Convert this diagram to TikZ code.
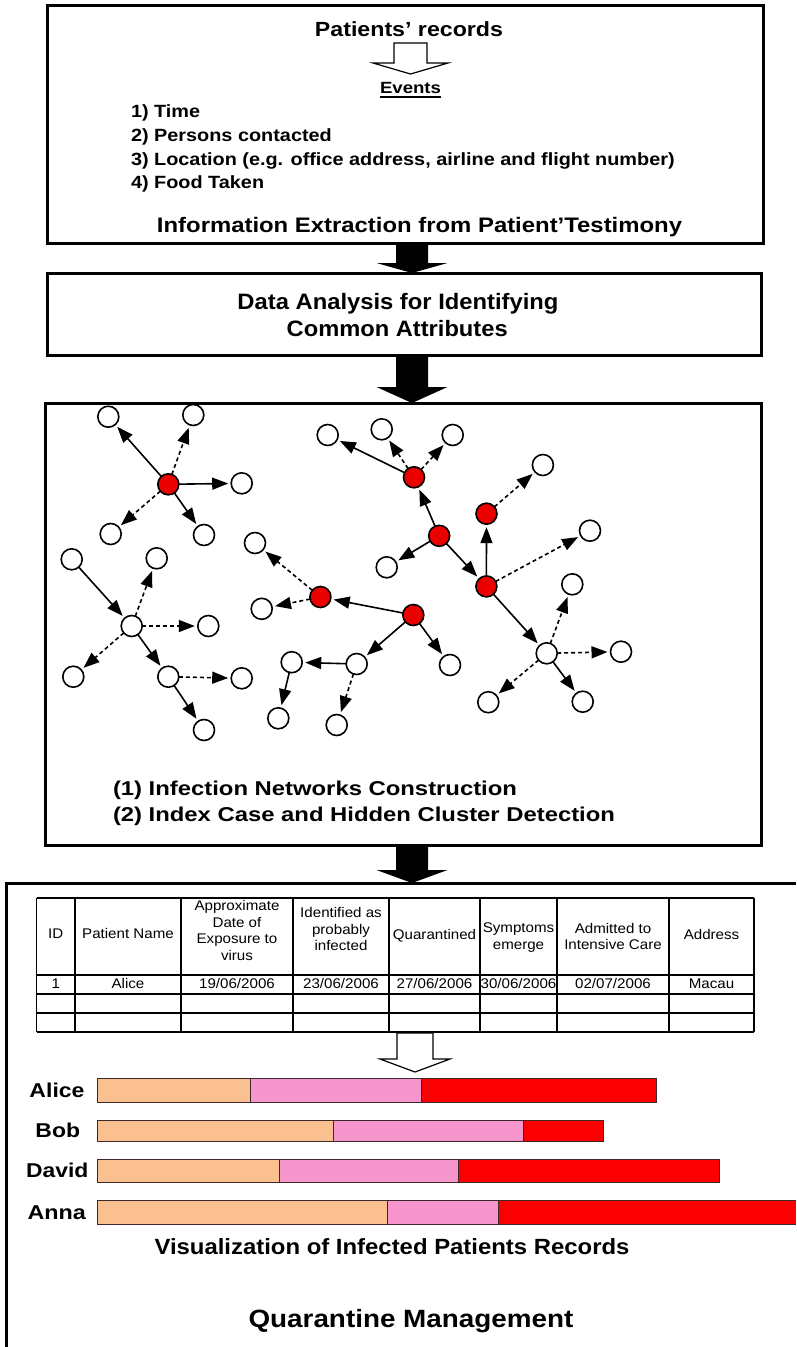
\documentclass[tikz,border=0pt]{standalone}
\usepackage{fontspec}
\setmainfont{Liberation Sans}
\usetikzlibrary{arrows.meta,calc}

\definecolor{nodered}{RGB}{235,0,0}
\definecolor{barpeach}{RGB}{250,192,143}
\definecolor{barpink}{RGB}{246,150,205}
\definecolor{barred}{RGB}{250,0,0}
\definecolor{baredge}{RGB}{60,40,40}

% text helpers: fixed width at natural height, horizontal stretch
\newcommand\fitw[2]{\resizebox{#1pt}{\height}{#2}}
\newcommand\sx[2]{\scalebox{#1}[1]{#2}}
\newcommand\cellt[1]{\sx{1.08}{\begin{tabular}{@{}c@{}}#1\end{tabular}}}
% solid block arrow between two boxes: #1 source box, #2 target box, #3 head length
\newcommand\blockarrow[3]{%
  \fill let \p1=(ax |- #1.south), \p2=(ax |- #2.north) in
    (\x1-16pt,\y1) -- (\x1+16pt,\y1) -- (\x1+16pt,\y2+#3) -- (\x1+35.5pt,\y2+#3)
    -- (\x1,\y2) -- (\x1-35.5pt,\y2+#3) -- (\x1-16pt,\y2+#3) -- cycle;}

\begin{document}
\begin{tikzpicture}[x=1pt, y=-1pt,
  every node/.style={outer sep=0pt},
  box/.style={draw, line width=3pt, inner sep=0pt},
  txt/.style={inner sep=0pt, anchor=base},
  ltxt/.style={inner sep=0pt, anchor=base west},
  nw/.style={circle, draw, fill=white, line width=1.6pt, minimum size=21pt, inner sep=0pt},
  nr/.style={nw, fill=nodered},
  link/.style={line width=1.6pt, -{Triangle[length=16pt,width=12pt]}, shorten >=3pt},
  dlink/.style={link, dash pattern=on 4pt off 3pt},
  hollow/.style={draw, fill=white, line width=1.2pt, line join=miter},
  tline/.style={line width=1.1pt},
  tlineh/.style={line width=1.7pt},
  cell/.style={inner sep=0pt, font=\fontsize{14}{16.5}\selectfont},
  seg/.style={draw=baredge, line width=1pt},
  lab/.style={inner sep=0pt, anchor=base, font=\bfseries\fontsize{20}{24}\selectfont}
]
\useasboundingbox (0,0) rectangle (796,1347);
\fill[white] (0,0) rectangle (796,1347);
\coordinate (ax) at (412,0);

% ---------- frames ----------
\node[box, minimum width=716pt, minimum height=238pt] (box1) at (405,124) {};
\node[box, minimum width=714pt, minimum height=82pt]  (box2) at (404,314) {};
\node[box, minimum width=716pt, minimum height=442pt] (box3) at (403,624) {};
\node[inner sep=0pt, minimum width=790pt, minimum height=464pt] (box4) at (401,1115) {};
\draw[line width=3pt, line join=miter] (box4.north east) -- (box4.north west) -- (box4.south west);

\blockarrow{box1}{box2}{10pt}
\blockarrow{box2}{box3}{16pt}
\blockarrow{box3}{box4}{13pt}

% ---------- information extraction ----------
\node[txt, font=\bfseries\fontsize{20.5}{24}\selectfont] (title) at (409,36) {\fitw{188}{Patients’ records}};
\draw[hollow] (394,43) -- (427,43) -- (427,63) -- (448,63) -- (410.5,74) -- (373,63) -- (394,63) -- cycle;
\node[txt, font=\bfseries\fontsize{16.2}{19}\selectfont] (events) at (410.5,93.3) {\fitw{61}{Events}};
\draw[line width=1.6pt] ([yshift=-3.8pt]events.base west) -- ([yshift=-3.8pt]events.base east);

\begin{scope}[every node/.append style={ltxt, font=\bfseries\fontsize{17.7}{20}\selectfont}]
  \node (ev1) at (131,117.5) {\sx{1.122}{1) Time}};
  \node (ev2) at (131,141.3) {\sx{1.122}{2) Persons contacted}};
  \node (ev3) at (131,165.1) {\sx{1.122}{3) Location (e.g. office address, airline and flight number)}};
  \node (ev4) at (131,188.9) {\sx{1.122}{4) Food Taken}};
\end{scope}
\node[txt, font=\bfseries\fontsize{21}{25}\selectfont] (cap1) at (419.5,232) {\fitw{525}{Information Extraction from Patient’Testimony}};

% ---------- data analysis ----------
\node[txt, font=\bfseries\fontsize{22.3}{26}\selectfont] (cap2a) at (398,309.3) {\fitw{321}{Data Analysis for Identifying}};
\node[txt, font=\bfseries\fontsize{22.3}{26}\selectfont] (cap2b) at (397.2,336.7) {\fitw{221}{Common Attributes}};

% ---------- infection networks ----------
% cluster around a red index case (top left)
\node[nr] (nA0) at (168.3,484.3) {};
\node[nw] (nA1) at (108.3,416.7) {};
\node[nw] (nA2) at (193.3,415) {};
\node[nw] (nA3) at (241.7,483.3) {};
\node[nw] (nA4) at (110.7,534) {};
\node[nw] (nA5) at (204,535) {};
% hidden cluster (bottom left)
\node[nw] (nB0) at (131.7,626) {};
\node[nw] (nB1) at (71.7,559.3) {};
\node[nw] (nB2) at (156.7,558.3) {};
\node[nw] (nB3) at (208.3,626) {};
\node[nw] (nB4) at (73.3,676.7) {};
\node[nw] (nB5) at (168.3,676.7) {};
\node[nw] (nB6) at (241.7,678.3) {};
\node[nw] (nB7) at (204,730) {};
% large chain (centre and right)
\node[nr] (nR4) at (414,477.3) {};
\node[nw] (nC1) at (327.7,435) {};
\node[nw] (nC2) at (381.7,429.3) {};
\node[nw] (nC3) at (452.7,435) {};
\node[nr] (nR5) at (486.5,513.7) {};
\node[nw] (nC4) at (542.9,465) {};
\node[nr] (nR6) at (439.2,535.8) {};
\node[nw] (nC5) at (386.7,567.3) {};
\node[nr] (nR7) at (486.4,586.4) {};
\node[nw] (nC6) at (590,530.7) {};
\node[nw] (nW3) at (546.7,653.3) {};
\node[nw] (nC7) at (572.3,584.3) {};
\node[nw] (nC8) at (621,651.7) {};
\node[nw] (nC9) at (488.3,702.2) {};
\node[nw] (nC10) at (582.7,701.7) {};
\node[nr] (nR3) at (413.3,615) {};
\node[nr] (nR2) at (320.4,597) {};
\node[nw] (nC11) at (255,543) {};
\node[nw] (nC12) at (261.7,608.8) {};
\node[nw] (nC13) at (356.7,664) {};
\node[nw] (nC14) at (450,665) {};
\node[nw] (nC15) at (291.7,662.2) {};
\node[nw] (nC16) at (278.3,718.3) {};
\node[nw] (nC17) at (336.7,725) {};

\draw[link]  (nA0) -- (nA1);
\draw[dlink] (nA0) -- (nA2);
\draw[link]  (nA0) -- (nA3);
\draw[dlink] (nA0) -- (nA4);
\draw[link]  (nA0) -- (nA5);

\draw[link]  (nB1) -- (nB0);
\draw[dlink] (nB0) -- (nB2);
\draw[dlink] (nB0) -- (nB3);
\draw[dlink] (nB0) -- (nB4);
\draw[link]  (nB0) -- (nB5);
\draw[dlink] (nB5) -- (nB6);
\draw[link]  (nB5) -- (nB7);

\draw[link]  (nR4) -- (nC1);
\draw[dlink] (nR4) -- (nC2);
\draw[dlink] (nR4) -- (nC3);
\draw[link]  (nR6) -- (nR4);
\draw[link]  (nR6) -- (nC5);
\draw[link]  (nR6) -- (nR7);
\draw[link]  (nR7) -- (nR5);
\draw[dlink] (nR5) -- (nC4);
\draw[dlink] (nR7) -- (nC6);
\draw[link]  (nR7) -- (nW3);
\draw[dlink] (nW3) -- (nC7);
\draw[dlink] (nW3) -- (nC8);
\draw[dlink] (nW3) -- (nC9);
\draw[link]  (nW3) -- (nC10);
\draw[link]  (nR3) -- (nR2);
\draw[dlink] (nR2) -- (nC11);
\draw[dlink] (nR2) -- (nC12);
\draw[link]  (nR3) -- (nC13);
\draw[link]  (nR3) -- (nC14);
\draw[link]  (nC13) -- (nC15);
\draw[link]  (nC15) -- (nC16);
\draw[dlink] (nC13) -- (nC17);

\node[ltxt, font=\bfseries\fontsize{20}{24}\selectfont] (cap3a) at (113,795) {\fitw{404}{(1) Infection Networks Construction}};
\node[ltxt, font=\bfseries\fontsize{20}{24}\selectfont] (cap3b) at (113,821.7) {\fitw{502}{(2) Index Case and Hidden Cluster Detection}};

% ---------- patient table ----------
\foreach \x in {36.5,75,181,293,389,480,557,669,754}
  \draw[tline] (\x,898) -- (\x,1032);
\draw[tline] (36.5,898) -- (754,898);
\foreach \y in {975,994,1013,1032}
  \draw[tlineh] (36.5,\y) -- (754,\y);

\node[cell] (tID)    at (55.75,935) {\cellt{ID}};
\node[cell] (tName)  at (128,935)   {\cellt{Patient Name}};
\node[cell] (tExp)   at (237,932)   {\cellt{Approximate\\Date of\\Exposure to\\virus}};
\node[cell] (tIdent) at (341,931)   {\cellt{Identified as\\probably\\infected}};
\node[cell] (tQuar)  at (434.5,936) {\cellt{Quarantined}};
\node[cell] (tSym)   at (518.5,937.5) {\cellt{Symptoms\\emerge}};
\node[cell] (tAdm)   at (613,938)   {\cellt{Admitted to\\Intensive Care}};
\node[cell] (tAddr)  at (711.5,936) {\cellt{Address}};

\node[cell] (vID)    at (55.75,985) {\cellt{1}};
\node[cell] (vName)  at (128,985)   {\cellt{Alice}};
\node[cell] (vExp)   at (237,985)   {\cellt{19/06/2006}};
\node[cell] (vIdent) at (341,985)   {\cellt{23/06/2006}};
\node[cell] (vQuar)  at (434.5,985) {\cellt{27/06/2006}};
\node[cell] (vSym)   at (518.5,985) {\cellt{30/06/2006}};
\node[cell] (vAdm)   at (613,985)   {\cellt{02/07/2006}};
\node[cell] (vAddr)  at (711.5,985) {\cellt{Macau}};

\draw[hollow] (397,1033) -- (433,1033) -- (433,1059) -- (450,1059) -- (415,1072) -- (380,1059) -- (397,1059) -- cycle;

% ---------- timeline bars ----------
\filldraw[seg, fill=barpeach] (97.7,1078.3) rectangle (250,1102.3);
\filldraw[seg, fill=barpink]  (250,1078.3) rectangle (421,1102.3);
\filldraw[seg, fill=barred]   (421,1078.3) rectangle (656,1102.3);

\filldraw[seg, fill=barpeach] (97.7,1120) rectangle (333,1141.5);
\filldraw[seg, fill=barpink]  (333,1120) rectangle (523,1141.5);
\filldraw[seg, fill=barred]   (523,1120) rectangle (603,1141.5);

\filldraw[seg, fill=barpeach] (97.7,1159) rectangle (279.3,1182.7);
\filldraw[seg, fill=barpink]  (279.3,1159) rectangle (458,1182.7);
\filldraw[seg, fill=barred]   (458,1159) rectangle (719,1182.7);

\filldraw[seg, fill=barpeach] (97.7,1200) rectangle (387.7,1224);
\filldraw[seg, fill=barpink]  (387.7,1200) rectangle (498,1224);
\fill[barred] (498,1200) rectangle (796,1224);
\draw[seg] (796,1200) -- (498,1200) -- (498,1224) -- (796,1224);

\node[lab] (lAlice) at (57,1097.5) {\fitw{55}{Alice}};
\node[lab] (lBob)   at (57.8,1137.6) {\fitw{44.6}{Bob}};
\node[lab] (lDavid) at (57.2,1177.8) {\fitw{62.3}{David}};
\node[lab] (lAnna)  at (56.8,1219) {\fitw{58.3}{Anna}};

\node[txt, font=\bfseries\fontsize{22}{26}\selectfont] (cap4a) at (392,1254) {\fitw{475}{Visualization of Infected Patients Records}};
\node[txt, font=\bfseries\fontsize{25}{30}\selectfont] (cap4b) at (411,1327) {\fitw{325}{Quarantine Management}};
\end{tikzpicture}
\end{document}
